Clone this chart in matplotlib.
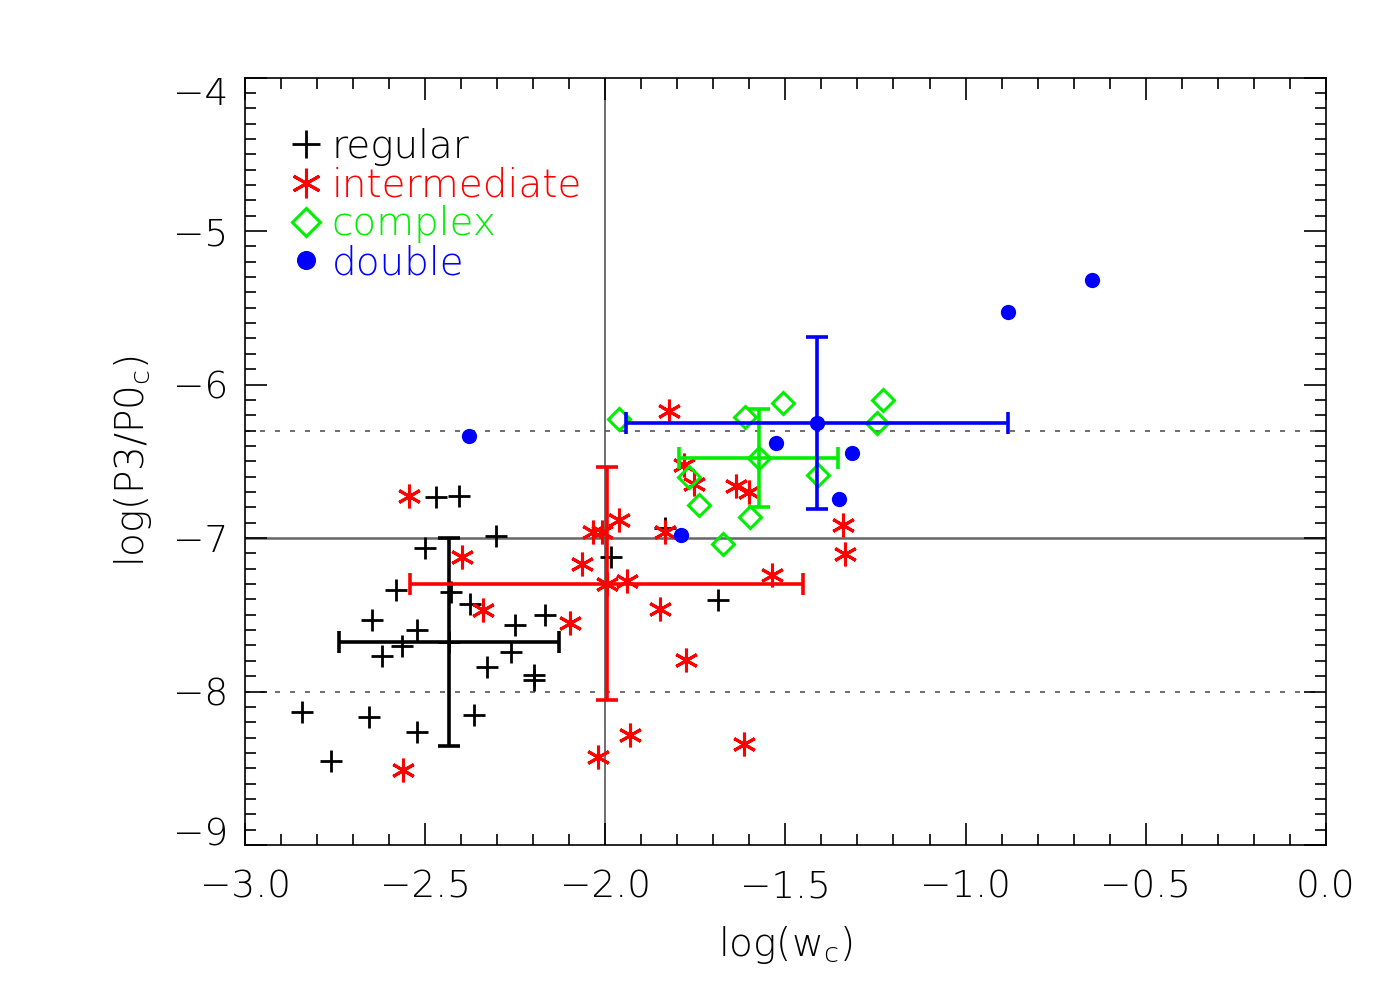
import matplotlib
matplotlib.use("Agg")
import matplotlib.pyplot as plt
from matplotlib.lines import Line2D
from matplotlib.ticker import MultipleLocator
from matplotlib.transforms import ScaledTranslation

# pulsar classes: regular / intermediate / complex / double
reg_x = [-2.471, -2.406, -2.304, -2.500, -1.985, -2.581, -2.428, -2.375, -2.647,
         -2.522, -2.251, -2.167, -2.565, -2.619, -2.263, -2.327, -2.199, -2.199,
         -2.841, -2.655, -2.365, -2.522, -2.762, -1.834, -1.688]
reg_y = [-6.732, -6.728, -6.984, -7.068, -7.127, -7.340, -7.351, -7.427, -7.536,
         -7.601, -7.568, -7.503, -7.703, -7.766, -7.743, -7.840, -7.894, -7.927,
         -8.134, -8.166, -8.155, -8.264, -8.455, -6.938, -7.405]

int_x = [-1.823, -1.781, -1.754, -1.636, -1.600, -1.339, -1.335, -1.834, -1.962,
         -2.033, -2.010, -2.064, -1.941, -1.536, -1.849, -2.098, -1.777, -1.930,
         -2.021, -1.616, -2.544, -2.398, -2.340, -2.562]
int_y = [-6.171, -6.526, -6.645, -6.662, -6.700, -6.917, -7.101, -6.960, -6.884,
         -6.960, -6.960, -7.171, -7.280, -7.238, -7.464, -7.551, -7.797, -8.286,
         -8.427, -8.340, -6.728, -7.123, -7.466, -8.514]

cpx_x = [-1.962, -1.612, -1.506, -1.228, -1.246, -1.768, -1.409, -1.739, -1.597, -1.672]
cpx_y = [-6.226, -6.211, -6.123, -6.102, -6.254, -6.602, -6.591, -6.782, -6.862, -7.040]

dbl_x = [-0.649, -0.883, -1.527, -1.316, -1.351, -1.790, -2.378]
dbl_y = [-5.319, -5.528, -6.380, -6.447, -6.747, -6.982, -6.338]

# class means and spreads
mean_x = [-2.434, -1.996, -1.574, -1.413]
mean_y = [-7.677, -7.297, -6.478, -6.250]
err_x = [0.305, 0.546, 0.220, 0.530]
err_y = [0.680, 0.760, 0.320, 0.560]

labels = ["regular", "intermediate", "complex", "double"]
colors = ["black", "red", "#00ee00", "blue"]
yticks = [-9, -8, -7, -6, -5, -4]

plt.rcParams["font.family"] = ["DejaVu Sans"]
plt.rcParams["font.weight"] = 200
plt.rcParams["axes.labelweight"] = 200
plt.rcParams["mathtext.fontset"] = "custom"
plt.rcParams["mathtext.rm"] = "DejaVu Sans:weight=200"
plt.rcParams["mathtext.it"] = "DejaVu Sans:weight=200"
plt.rcParams["mathtext.default"] = "rm"

fig = plt.figure(figsize=(14, 10), dpi=100)
ax = fig.add_axes([0.175, 0.155, 0.772, 0.7675])

ax.axvline(-2.0, color="#555555", lw=1.2, zorder=1)
ax.axhline(-7.0, color="#666666", lw=1.8, zorder=1)
ax.axhline(-6.3, color="#555555", lw=1.2, ls=(0, (3, 6)), zorder=1)
ax.axhline(-8.0, color="#555555", lw=1.2, ls=(0, (3, 6)), zorder=1)

asterisk = (6, 2, 0)
mk = [dict(marker="+", ms=16, mew=2.0, mfc="none"),
      dict(marker=asterisk, ms=17, mew=2.2, mfc="none"),
      dict(marker="D", ms=11, mew=2.2, mfc="none"),
      dict(marker="o", ms=11, mew=0)]
xs = [reg_x, int_x, cpx_x, dbl_x]
ys = [reg_y, int_y, cpx_y, dbl_y]

handles = []
for i in range(4):
    ax.plot(xs[i], ys[i], ls="none", color=colors[i], mec=colors[i], zorder=3, **mk[i])
    ax.errorbar(mean_x[i], mean_y[i], xerr=err_x[i], yerr=err_y[i], color=colors[i],
                lw=2.6, capsize=8, capthick=2.6, ls="none", zorder=4)
    ax.plot(mean_x[i], mean_y[i], ls="none", color=colors[i], mec=colors[i], zorder=5, **mk[i])
    handles.append(Line2D([], [], ls="none", color=colors[i], mec=colors[i], **mk[i]))

leg = ax.legend(handles, labels, loc="upper left", bbox_to_anchor=(0.017, 0.97),
                frameon=False, fontsize=28, handlelength=0.8, handletextpad=0.25,
                labelspacing=0.02, borderpad=0.2, labelcolor="linecolor", markerscale=1.25)

ax.set_xlim(-3.0, 0.0)
ax.set_ylim(-9, -4)
ax.xaxis.set_major_locator(MultipleLocator(0.5))
ax.xaxis.set_minor_locator(MultipleLocator(0.1))
ax.set_yticks(yticks)
ax.yaxis.set_minor_locator(MultipleLocator(0.1))
ax.xaxis.set_major_formatter(plt.FuncFormatter(lambda v, p: f"{v:.1f}".replace("-", "\u2212")))
ax.yaxis.set_major_formatter(plt.FuncFormatter(lambda v, p: f"{v:.0f}".replace("-", "\u2212")))

ax.tick_params(which="both", direction="in", top=True, right=True, width=1.2, labelsize=27)
ax.tick_params(which="major", length=16)
ax.tick_params(which="minor", length=8)
ax.tick_params(axis="x", which="major", pad=18)
ax.tick_params(axis="y", which="major", pad=12)
for s in ax.spines.values():
    s.set_linewidth(1.2)

# IDL style: end labels pulled inside the axis range
ylabs = ax.get_yticklabels()
ylabs[0].set_transform(ylabs[0].get_transform() + ScaledTranslation(0, 10 / 72, fig.dpi_scale_trans))
ylabs[-1].set_transform(ylabs[-1].get_transform() + ScaledTranslation(0, -10 / 72, fig.dpi_scale_trans))

ax.set_xlabel("log(w$_c$)", fontsize=28, labelpad=14)
ax.set_ylabel("log(P3/P0$_c$)", fontsize=28, labelpad=14)

fig.savefig("out.png", dpi=100)
